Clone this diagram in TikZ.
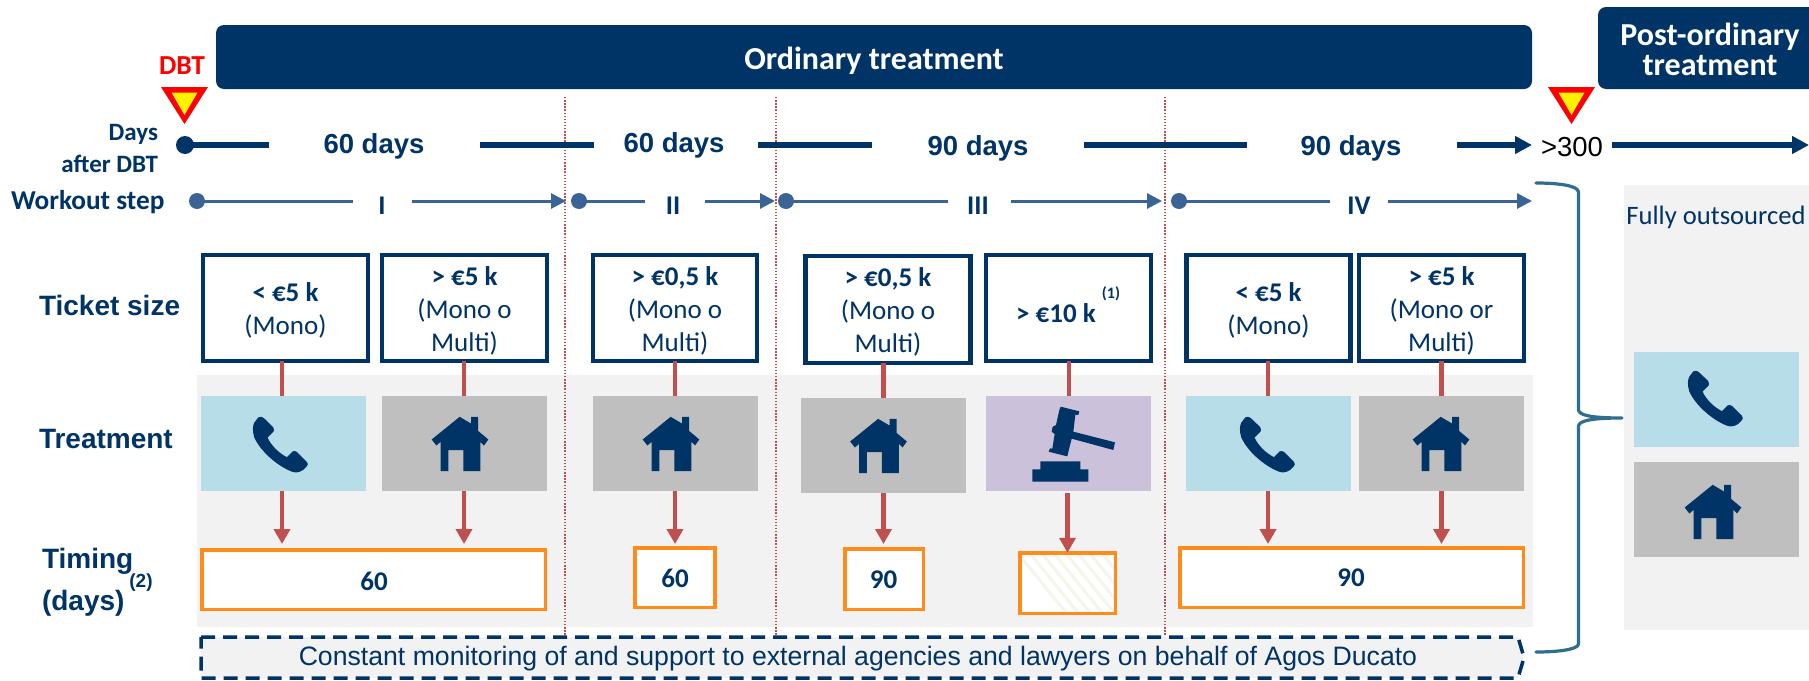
\documentclass[tikz,border=0pt]{standalone}
\usepackage{fontspec}
\setmainfont{Carlito}
\newfontfamily\car{Carlito}
\newfontfamily\ari{Liberation Sans}
\usetikzlibrary{arrows.meta}
\definecolor{navy}{HTML}{003366}
\definecolor{stepblue}{HTML}{3A6496}
\definecolor{redline}{HTML}{C0504D}
\definecolor{panel}{HTML}{F2F2F2}
\definecolor{lblue}{HTML}{B7DDE8}
\definecolor{lgray}{HTML}{BFBFBF}
\definecolor{lpurple}{HTML}{CCC1DA}
\definecolor{orangeb}{HTML}{FF8C1A}
\definecolor{teal}{HTML}{2E6E8E}
\definecolor{hatchc}{HTML}{F4F5EB}
\newcommand{\fsz}[2]{\fontsize{#1}{#2}\selectfont}
\newcommand{\tfirst}{\rule{0pt}{24pt}}
\tikzset{
  every node/.style={inner sep=0pt,outer sep=0pt},
  dayslbl/.style={text=navy,font=\ari\bfseries\fsz{27.5}{30}},
  steplbl/.style={text=navy,font=\car\bfseries\fsz{25}{32},align=right},
  rowlbl/.style={text=navy,font=\ari\bfseries\fsz{28}{42},align=left},
  romanlbl/.style={text=navy,font=\car\bfseries\fsz{27}{29}},
  ticket/.style={draw=navy,line width=4.5pt,fill=white,text=navy,font=\car\fsz{27}{33},align=center,minimum width=165pt,minimum height=106pt},
  treat/.style={minimum width=165pt,minimum height=95pt},
  timingbox/.style={draw=orangeb,line width=3.5pt,fill=white,text=navy,font=\car\bfseries\fsz{27}{29}},
  dayline/.style={draw=navy,line width=6pt},
  dayarrow/.style={dayline,-{Triangle[length=17pt,width=17pt]}},
  stepline/.style={draw=stepblue,line width=3pt},
  steparrow/.style={stepline,-{Triangle[length=15pt,width=15pt]}},
  redlink/.style={draw=redline,line width=4.5pt},
  redarrow/.style={redlink,-{Triangle[length=15pt,width=16pt]}},
  divider/.style={draw=redline,line width=1.4pt,dash pattern=on 1.4pt off 1.7pt},
  icon/.style={fill=navy,draw=none},
  housepic/.pic={
    \begin{scope}[x=0.3333pt,y=-0.3333pt]
    \fill[icon] (-2.5,-80) -- (-86.5,-12) -- (-72.5,6) -- (-59.5,-5) -- (-59.5,83) -- (-36.5,83) -- (-36.5,20) -- (8.5,20) -- (8.5,83) -- (59.5,83) -- (59.5,-5) -- (70.5,6) -- (83.5,-12) -- (52.5,-38) -- (52.5,-80) -- (31.5,-80) -- (31.5,-60) -- cycle;
    \end{scope}},
  phonepic/.pic={
    \begin{scope}[x=0.3333pt,y=-0.3333pt]
    \fill[icon] (-62,-86) .. controls (-56,-86) and (-50,-80) .. (-25,-55)
      .. controls (-22,-50) and (-22,-44) .. (-24,-42) -- (-42,-24)
      .. controls (-30,2) and (-8,22) .. (16,35) -- (33,18)
      .. controls (36,16) and (42,16) .. (46,19) -- (76,49)
      .. controls (80,54) and (80,58) .. (76,62) -- (64,74)
      .. controls (52,82) and (40,82) .. (30,78)
      .. controls (-15,60) and (-65,15) .. (-82,-25)
      .. controls (-88,-45) and (-86,-60) .. (-82,-68) -- (-70,-84)
      .. controls (-68,-86) and (-65,-87) .. (-62,-86) -- cycle;
    \end{scope}},
  gavelpic/.pic={
    \begin{scope}[x=0.3333pt,y=-0.3333pt,shift={(-325.5,-250.5)}]
    \fill[icon] (302,140) -- (358,154) -- (355,165) -- (346,164) -- (340,215) -- (465,247) -- (460,270) -- (335,236) -- (326,272) -- (322,289) -- (266,275) -- (270,265) -- (277,266) -- (284,222) -- (275,215) -- (278,200) -- (288,195) -- (298,150) -- cycle;
    \fill[icon] (241,304) -- (361,304) -- (361,328) -- (385,328) -- (385,365) -- (217,365) -- (217,328) -- (241,328) -- cycle;
    \end{scope}},
  yieldmark/.pic={
    \fill[red] (-23.5,-37) -- (23.5,-37) -- (0,0) -- cycle;
    \fill[yellow] (-13,-31.5) -- (13,-31.5) -- (0,-9) -- cycle;
  },
}
\begin{document}
\begin{tikzpicture}[x=1pt,y=-1pt]
\useasboundingbox (0,0) rectangle (1809,680);
\fill[white] (0,0) rectangle (1809,680);

% panels
\fill[panel] (197,375) rectangle (1533,627);
\fill[panel] (1624,185) rectangle (1809,630);

% banners
\path[fill=navy,rounded corners=8pt] (216,25) rectangle (1532,89);
\node[text=white,font=\car\bfseries\fsz{32}{34}] (ordinary) at (874,61) {Ordinary treatment};
\path[fill=navy,rounded corners=8pt] (1598,7) rectangle (1830,89);
\node[text=white,font=\car\bfseries\fsz{32}{30},align=center] (post) at (1710,49) {Post-ordinary\\treatment};

% dividers
\coordinate (dva) at (565,97); \coordinate (dvb) at (776,97); \coordinate (dvc) at (1165,97);
\coordinate (dve) at (0,636);
\draw[divider] (dva) -- (dva |- dve);
\draw[divider] (dvb) -- (dvb |- dve);
\draw[divider] (dvc) -- (dvc |- dve);

% DBT marks
\node[text=red,font=\car\bfseries\fsz{27.5}{29}] (dbt) at (182,66) {DBT};
\pic at (184.5,124) {yieldmark};
\pic at (1571.5,124) {yieldmark};

% left labels
\node[steplbl,anchor=east] (daysafter) at (158,148) {Days\\after DBT};
\node[text=navy,font=\car\bfseries\fsz{27.3}{30},anchor=west] (workout) at (11,202) {Workout step};
\node[rowlbl,anchor=west] (ticketsize) at (39,305) {Ticket size};
\node[rowlbl,anchor=west] (treatment) at (39,439) {Treatment};
\node[rowlbl,anchor=west] (timing) at (42,582.5) {Timing\\(days)};
\node[text=navy,font=\ari\bfseries\fsz{19}{21}] (note2) at (141,583) {(2)};

% days timeline
\node[circle,fill=navy,minimum size=18pt] (d0) at (185,145) {};
\node[dayslbl] (d60a) at (374,146) {60 days};
\node[dayslbl] (d60b) at (674,145) {60 days};
\node[dayslbl] (d90a) at (978,148) {90 days};
\node[dayslbl] (d90b) at (1351,148) {90 days};
\node[text=black,font=\ari\fsz{27.5}{30}] (d300) at (1572,147) {>300};
\coordinate (g1a) at (269,145); \coordinate (g1b) at (480,145); \coordinate (g2a) at (594,145);
\coordinate (g2b) at (758,145); \coordinate (g3a) at (872,145); \coordinate (g3b) at (1084,145);
\coordinate (g4a) at (1247,145); \coordinate (g4b) at (1457,145); \coordinate (g4c) at (1532,145);
\coordinate (g5a) at (1612,145); \coordinate (g5b) at (1809,145);
\draw[dayline] (d0.center) -- (g1a);
\draw[dayline] (g1b) -- (g2a);
\draw[dayline] (g2b) -- (g3a);
\draw[dayline] (g3b) -- (g4a);
\draw[dayarrow] (g4b) -- (g4c);
\draw[dayarrow] (g5a) -- (g5b);

% steps
\node[circle,fill=stepblue,minimum size=16pt] (s1) at (197,201) {};
\node[circle,fill=stepblue,minimum size=16pt] (s2) at (579,201) {};
\node[circle,fill=stepblue,minimum size=16pt] (s3) at (786,201) {};
\node[circle,fill=stepblue,minimum size=16pt] (s4) at (1179,201) {};
\node[romanlbl] (ri) at (382,206) {I};
\node[romanlbl] (rii) at (673,206) {II};
\node[romanlbl] (riii) at (978,206) {III};
\node[romanlbl] (riv) at (1359,206) {IV};
\coordinate (a1) at (353,201); \coordinate (a2) at (412,201); \coordinate (a3) at (566,201);
\coordinate (b1) at (645,201); \coordinate (b2) at (705,201); \coordinate (b3) at (775,201);
\coordinate (c1) at (948,201); \coordinate (c2) at (1011,201); \coordinate (c3) at (1162,201);
\coordinate (e1) at (1330,201); \coordinate (e2) at (1388,201); \coordinate (e3) at (1532,201);
\draw[stepline] (s1.center) -- (a1);
\draw[steparrow] (a2) -- (a3);
\draw[stepline] (s2.center) -- (b1);
\draw[steparrow] (b2) -- (b3);
\draw[stepline] (s3.center) -- (c1);
\draw[steparrow] (c2) -- (c3);
\draw[stepline] (s4.center) -- (e1);
\draw[steparrow] (e2) -- (e3);

% ticket boxes
\node[ticket] (t1) at (285.5,308) {\tfirst\textbf{< €5 k}\\(Mono)};
\node[ticket] (t2) at (464.5,308) {\tfirst\textbf{> €5 k}\\(Mono o\\Multi)};
\node[ticket,minimum width=164pt] (t3) at (675,308) {\tfirst\textbf{> €0,5 k}\\(Mono o\\Multi)};
\node[ticket,minimum height=107pt] (t4) at (888,309.5) {\tfirst\textbf{> €0,5 k}\\(Mono o\\Multi)};
\node[ticket] (t5) at (1068.5,308) {};
\node[text=navy,font=\car\bfseries\fsz{27}{33}] (t5a) at (1056,313) {> €10 k};
\node[text=navy,font=\car\bfseries\fsz{16}{18}] (note1) at (1111,294) {(1)};
\node[ticket,minimum width=164pt] (t6) at (1268.5,308) {\tfirst\textbf{< €5 k}\\(Mono)};
\node[ticket,minimum width=165pt] (t7) at (1441.5,308) {\tfirst\textbf{> €5 k}\\(Mono or\\Multi)};

% treatment boxes
\node[treat,fill=lblue] (m1) at (283.5,443.5) {};
\node[treat,fill=lgray] (m2) at (464.5,443.5) {};
\node[treat,fill=lgray] (m3) at (675.5,443.5) {};
\node[treat,fill=lgray] (m4) at (883.5,445.5) {};
\node[treat,fill=lpurple] (m5) at (1068.5,443.5) {};
\node[treat,fill=lblue] (m6) at (1268.5,443.5) {};
\node[treat,fill=lgray] (m7) at (1441.5,443.5) {};
\node[treat,fill=lblue] (m8) at (1716.5,399.5) {};
\node[treat,fill=lgray] (m9) at (1716.5,509.5) {};

\pic at (281.5,445.5) {phonepic};
\pic at (1268.5,445.5) {phonepic};
\pic at (1716.5,399.5) {phonepic};
\pic at (460.5,443.5) {housepic};
\pic at (671.5,443.5) {housepic};
\pic at (879,445.5) {housepic};
\pic at (1441.5,443.5) {housepic};
\pic at (1713.5,511.5) {housepic};
\pic at (1068.5,443.5) {gavelpic};

% timing boxes
\node[timingbox,minimum width=343.5pt,minimum height=59.5pt] (o1) at (373.5,579.5) {};
\node[timingbox,minimum width=80pt,minimum height=59.5pt] (o2) at (675,577.5) {};
\node[timingbox,minimum width=78.5pt,minimum height=60.5pt] (o3) at (884,579) {};
\node[timingbox,minimum width=95.5pt,minimum height=60.5pt] (o4) at (1067.5,583) {};
\node[timingbox,minimum width=343.5pt,minimum height=59.5pt] (o5) at (1351.5,577.5) {};
\begin{scope}
\clip (o4.south west) rectangle (o4.north east);
\foreach \k in {0,...,11}{
  \draw[hatchc,line width=3pt] (1012+\k*12,546) -- (1012+\k*12+60,620);
}
\end{scope}
\draw[orangeb,line width=3.5pt] (o4.south west) rectangle (o4.north east);
\node[text=navy,font=\car\bfseries\fsz{27}{29}] (o1t) at (374,581) {60};
\node[text=navy,font=\car\bfseries\fsz{27}{29}] (o2t) at (675,578) {60};
\node[text=navy,font=\car\bfseries\fsz{27}{29}] (o3t) at (883.5,580) {90};
\node[text=navy,font=\car\bfseries\fsz{27}{29}] (o5t) at (1351,578) {90};

% red connectors
\coordinate (x1) at (282,0); \coordinate (x2) at (464,0); \coordinate (x3) at (675,0);
\coordinate (x4) at (883.5,0); \coordinate (x5) at (1069,0); \coordinate (x5b) at (1067.5,0);
\coordinate (x6) at (1268,0); \coordinate (x7) at (1441.5,0);
\draw[redlink] (x1 |- t1.south) -- (x1 |- m1.north);
\draw[redlink] (x2 |- t2.south) -- (x2 |- m2.north);
\draw[redlink] (x3 |- t3.south) -- (x3 |- m3.north);
\draw[redlink] (x4 |- t4.south) -- (x4 |- m4.north);
\draw[redlink] (x5 |- t5.south) -- (x5 |- m5.north);
\draw[redlink] (x6 |- t6.south) -- (x6 |- m6.north);
\draw[redlink] (x7 |- t7.south) -- (x7 |- m7.north);
\coordinate (tip) at (0,544);
\draw[redarrow] (x1 |- m1.south) -- (x1 |- tip);
\draw[redarrow] (x2 |- m2.south) -- (x2 |- tip);
\draw[redarrow] (x3 |- m3.south) -- (x3 |- tip);
\draw[redarrow] (x4 |- m4.south) -- (x4 |- tip);
\draw[redarrow] (x5b |- m4.south) -- (x5b |- o4.north);
\draw[redarrow] (x6 |- m6.south) -- (x6 |- tip);
\draw[redarrow] (x7 |- m7.south) -- (x7 |- tip);

% monitoring band
\draw[fill=panel,draw=navy,line width=3.5pt,dash pattern=on 14pt off 8pt]
  (201,637) -- (1518,637) -- (1524,657.5) -- (1518,678) -- (201,678) -- cycle;
\node[text=navy,font=\ari\fsz{26.65}{29}] (band) at (858,659) {Constant monitoring of and support to external agencies and lawyers on behalf of Agos Ducato};

% brace
\draw[teal,line width=3.2pt,line cap=round,line join=round]
  (1536,183) .. controls (1555,183) and (1578,185) .. (1578.5,192)
  -- (1578.5,410) .. controls (1579,415) and (1590,418) .. (1622,418)
  .. controls (1590,418) and (1579,421) .. (1578.5,426)
  -- (1578.5,644) .. controls (1578,650) and (1555,652) .. (1536,652);

% right panel label
\node[text=navy,font=\car\fsz{26.6}{28}] (fully) at (1716,217) {Fully outsourced};
\end{tikzpicture}
\end{document}
